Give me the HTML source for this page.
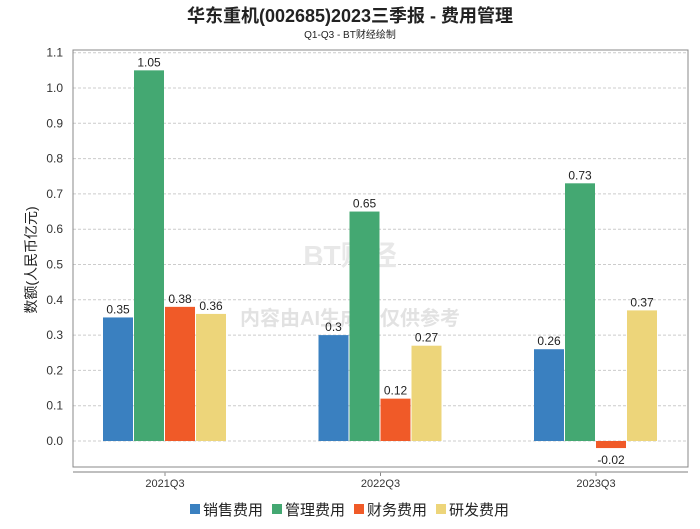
<!DOCTYPE html>
<html><head><meta charset="utf-8"><style>
body{margin:0;background:#fff;font-family:"Liberation Sans","Noto Sans CJK SC",sans-serif}
svg text{font-family:"Liberation Sans","Noto Sans CJK SC",sans-serif}
</style></head><body>
<svg id="c" width="700" height="524">
<text x="350" y="22" text-anchor="middle" font-size="18" font-weight="bold" fill="#222">华东重机(002685)2023三季报 - 费用管理</text>
<text x="350" y="38" text-anchor="middle" font-size="10" fill="#222">Q1-Q3 - BT财经绘制</text>
<text x="0" y="0" transform="translate(36,260) rotate(-90)" text-anchor="middle" font-size="14" fill="#222">数额(人民币亿元)</text>
<g id="grid"></g>
<text x="350" y="325" text-anchor="middle" font-size="20" fill="#e2e2e2" font-weight="bold">内容由AI生成，仅供参考</text>
<text x="350" y="265" text-anchor="middle" font-size="28" fill="#e8e8e8" font-weight="bold">BT财经</text>
<g id="bars"></g>
<rect x="73" y="50" width="615" height="417" fill="none" stroke="#888"/>
<line x1="73" y1="472" x2="688" y2="472" stroke="#aaa" stroke-width="1.5"/>
<g id="leg"></g>
</svg>
<script>
const categories=["2021Q3","2022Q3","2023Q3"];
const seriesNames=["销售费用","管理费用","财务费用","研发费用"];
const sales=[0.35,0.3,0.26];
const admin=[1.05,0.65,0.73];
const finance=[0.38,0.12,-0.02];
const rnd=[0.36,0.27,0.37];
const yTicks=[0,0.1,0.2,0.3,0.4,0.5,0.6,0.7,0.8,0.9,1.0,1.1];
const colors=["#3a80c0","#44a872","#f05a28","#edd57a"];
const NS="http://www.w3.org/2000/svg";
const y=v=>441-v*353;
const xc=i=>165+i*215.5;
function mk(t,a,p){const e=document.createElementNS(NS,t);for(const k in a)e.setAttribute(k,a[k]);p.appendChild(e);return e;}
const grid=document.getElementById('grid'),bars=document.getElementById('bars'),leg=document.getElementById('leg');
yTicks.forEach(v=>{
 const l=mk('line',{x1:73,x2:688,y1:y(v),y2:y(v),stroke:'#ccc','stroke-dasharray':'3,2'},grid);
 
 
 const t=mk('text',{x:63,y:y(v)+4,'text-anchor':'end','font-size':12,fill:'#333'},grid);
 t.textContent=v.toFixed(1);
 
 
});
const series=[sales,admin,finance,rnd];
categories.forEach((c,i)=>{
 series.forEach((s,j)=>{
  const v=s[i],x0=xc(i)-62+j*31;
  const r=mk('rect',{x:x0,y:Math.min(y(v),y(0)),width:30,height:Math.abs(y(v)-y(0)),fill:colors[j]},bars);
  
  
  const t=mk('text',{x:x0+15,y:v>=0?y(v)-4:y(v)+16,'text-anchor':'middle','font-size':12,fill:'#222'},bars);
  t.textContent=String(v);
  
  
 });
 mk('line',{x1:xc(i),x2:xc(i),y1:472,y2:476,stroke:'#888'},bars);
 const t=mk('text',{x:xc(i),y:487,'text-anchor':'middle','font-size':11,fill:'#333'},bars);
 t.textContent=c;
 
 
});
seriesNames.forEach((n,j)=>{
 const x0=190+j*82;
 const r=mk('rect',{x:x0,y:504,width:10,height:10,fill:colors[j]},leg);
 
 
 const t=mk('text',{x:x0+13,y:515,'font-size':15,fill:'#222'},leg);
 t.textContent=n;
 
 
});
</script>
</body></html>
